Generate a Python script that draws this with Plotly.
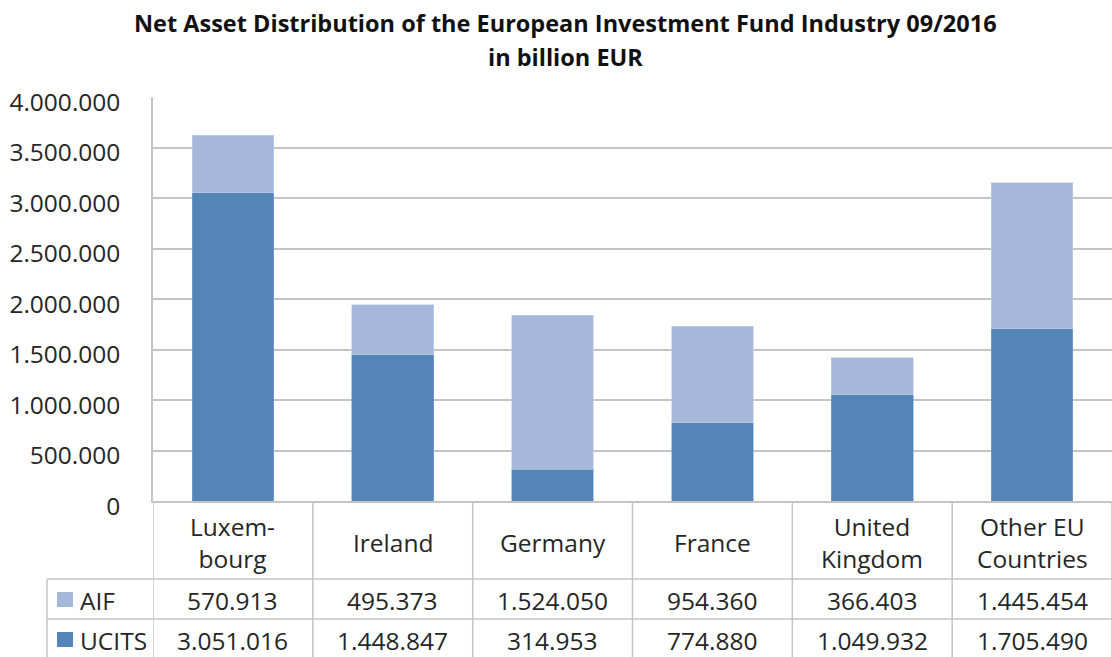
import plotly.graph_objects as go

categories = ["Luxem-<br>bourg", "Ireland", "Germany", "France", "United<br>Kingdom", "Other EU<br>Countries"]
series_names = ["AIF", "UCITS"]
aif = [570913, 495373, 1524050, 954360, 366403, 1445454]
ucits = [3051016, 1448847, 314953, 774880, 1049932, 1705490]

W, H = 1112, 657
L, R, T, B = 153, 0, 97, 156
PW = W - L - R
PH = H - T - B
FONT = "Open Sans"
TXT = "#262626"
GRID = "#C4C4C4"
C_AIF = "#A5B8D9"
C_UCITS = "#5585B6"
FS = 24.5


def py(px):
    return (H - B - px) / PH


def px_x(px):
    return (px - L) / PW


def fmt(v):
    return f"{v:,}".replace(",", ".")


x = list(range(len(categories)))
fig = go.Figure()
fig.add_trace(go.Bar(x=x, y=ucits, name="UCITS", marker=dict(color=C_UCITS, line=dict(width=0.6, color="#7FA2CB")), width=0.51))
fig.add_trace(go.Bar(x=x, y=aif, name="AIF", marker=dict(color=C_AIF, line=dict(width=0.6, color="#C3D0E6")), width=0.51))

shapes = []
ann = []
n = len(categories)
row_cat_bottom = 579
row_aif_bottom = 619
bottom = 700
# vertical lines of table
for i in range(n + 1):
    shapes.append(dict(type="line", xref="x", yref="paper", x0=i - 0.5, x1=i - 0.5,
                       y0=0, y1=py(bottom), line=dict(color=GRID, width=1.5)))
# left border of legend column
shapes.append(dict(type="line", xref="paper", yref="paper", x0=px_x(47), x1=px_x(47),
                   y0=py(row_cat_bottom), y1=py(bottom), line=dict(color=GRID, width=1.5)))
for yy in (row_cat_bottom, row_aif_bottom):
    shapes.append(dict(type="line", xref="paper", yref="paper", x0=px_x(47), x1=1.0,
                       y0=py(yy), y1=py(yy), line=dict(color=GRID, width=1.5)))

# category labels
for i, c in enumerate(categories):
    ann.append(dict(x=i, y=py(542), xref="x", yref="paper", text=c, showarrow=False,
                    font=dict(family=FONT, size=FS, color=TXT), xanchor="center", yanchor="middle"))

rows = [("AIF", aif, C_AIF, 600), ("UCITS", ucits, C_UCITS, 640)]
for name, vals, col, yc in rows:
    shapes.append(dict(type="rect", xref="paper", yref="paper", x0=px_x(57), x1=px_x(73),
                       y0=py(yc - 8), y1=py(yc + 7), line=dict(width=0), fillcolor=col))
    ann.append(dict(x=px_x(78), y=py(yc), xref="paper", yref="paper", text=name, showarrow=False,
                    font=dict(family=FONT, size=FS, color=TXT), xanchor="left", yanchor="middle"))
    for i, v in enumerate(vals):
        ann.append(dict(x=i, y=py(yc), xref="x", yref="paper", text=fmt(v), showarrow=False,
                        font=dict(family=FONT, size=FS, color=TXT), xanchor="center", yanchor="middle"))

# title
ann.append(dict(x=(565 - L) / PW, y=py(23), xref="paper", yref="paper",
                text="<b>Net Asset Distribution of the European Investment Fund Industry 09/2016</b>",
                showarrow=False, font=dict(family=FONT, size=23.5, color="#111111"), xanchor="center", yanchor="middle"))
ann.append(dict(x=(565 - L) / PW, y=py(57), xref="paper", yref="paper",
                text="<b>in billion EUR</b>",
                showarrow=False, font=dict(family=FONT, size=23.5, color="#111111"), xanchor="center", yanchor="middle"))

fig.update_layout(
    width=W, height=H,
    margin=dict(l=L, r=R, t=T, b=B, pad=0),
    barmode="stack",
    showlegend=False,
    plot_bgcolor="white", paper_bgcolor="white",
    separators=",.",
    shapes=shapes,
    annotations=ann,
    font=dict(family=FONT, color=TXT),
)
fig.update_xaxes(range=[-0.5, n - 0.5], showticklabels=False, showgrid=False,
                 showline=True, linecolor=GRID, linewidth=1.5, zeroline=False, fixedrange=True)
fig.update_yaxes(range=[0, 4000000], tickvals=[i * 500000 for i in range(9)], tickformat=",d",
                 showgrid=True, gridcolor=GRID, gridwidth=1.5, showline=True, linecolor=GRID,
                 linewidth=1.5, zeroline=False, ticks="", ticklabelstandoff=26,
                 tickfont=dict(family=FONT, size=FS, color=TXT), ticklabelshift=5)

fig.write_html("out.html", config={"displayModeBar": False},
               post_script="document.body.style.margin='0';document.body.style.overflow='hidden';")
